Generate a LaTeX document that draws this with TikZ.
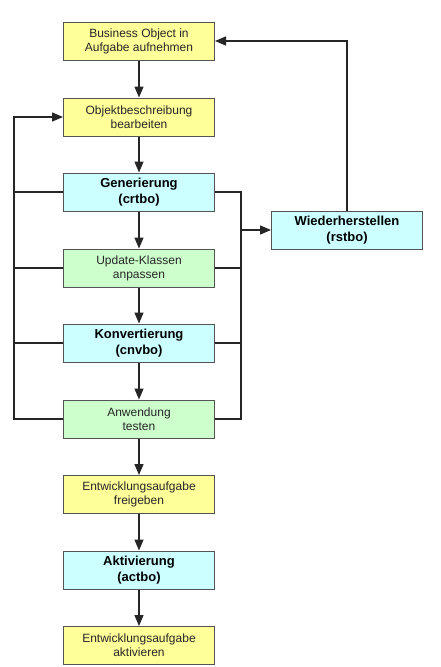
\documentclass[tikz,border=0pt]{standalone}
\usepackage{fontspec}
\setmainfont{Liberation Sans}
\usepackage{tikz}
\usetikzlibrary{arrows.meta}
\definecolor{ffff99}{rgb}{1.,1.,0.6}
\definecolor{ccffff}{rgb}{0.8,1.,1.}
\definecolor{ccffcc}{rgb}{0.8,1.,0.8}
\definecolor{rahmen}{rgb}{0.33,0.33,0.33}
\definecolor{schrift}{rgb}{0.15,0.15,0.15}

\tikzset{
  kasten/.style={draw=rahmen,line width=1pt,minimum width=151pt,minimum height=38pt,inner sep=0pt,align=center,text=schrift},
  aufgabe/.style={kasten,fill=ffff99,font=\fontsize{12}{14}\selectfont},
  anpassen/.style={kasten,fill=ccffcc,font=\fontsize{12}{14}\selectfont},
  werkzeug/.style={kasten,fill=ccffff,font=\fontsize{13}{16.5}\selectfont\bfseries,text=black},
  linie/.style={line width=1.4pt,color=black!85},
  pfeil/.style={linie,-{Triangle[length=11pt,width=9pt]}}
}

\begin{document}
\begin{tikzpicture}[line cap=butt,line join=miter,x=1pt,y=-1pt]
\useasboundingbox (0,0) rectangle (440,667);
% Schritte
\node[aufgabe]  (bo)    at (139,41)    {Business Object in\\Aufgabe aufnehmen};
\node[aufgabe]  (obj)   at (139,117)   {Objektbeschreibung\\bearbeiten};
\node[werkzeug] (gen)   at (139,192)   {Generierung\\(crtbo)};
\node[anpassen] (upd)   at (139,268)   {Update-Klassen\\anpassen};
\node[werkzeug] (konv)  at (139,343)   {Konvertierung\\(cnvbo)};
\node[anpassen] (anw)   at (139,419)   {Anwendung\\testen};
\node[aufgabe]  (frei)  at (139,494.5) {Entwicklungsaufgabe\\freigeben};
\node[werkzeug] (akt)   at (139,570)   {Aktivierung\\(actbo)};
\node[aufgabe]  (aktiv) at (139,645.5) {Entwicklungsaufgabe\\aktivieren};
\node[werkzeug] (wied)  at (347,230)   {Wiederherstellen\\(rstbo)};
% Hauptfluss
\draw[pfeil] (bo) -- (obj);
\draw[pfeil] (obj) -- (gen);
\draw[pfeil] (gen) -- (upd);
\draw[pfeil] (upd) -- (konv);
\draw[pfeil] (konv) -- (anw);
\draw[pfeil] (anw) -- (frei);
\draw[pfeil] (frei) -- (akt);
\draw[pfeil] (akt) -- (aktiv);
% Ruecksprung links
\coordinate (lo) at (14,117);
\coordinate (lu) at (14,419);
\draw[pfeil] (anw.west) -- (lu) -- (lo) -- (obj.west);
\draw[linie] (gen.west) -- (gen.west -| lo);
\draw[linie] (upd.west) -- (upd.west -| lo);
\draw[linie] (konv.west) -- (konv.west -| lo);
% Wiederherstellen rechts
\coordinate (ro) at (241,192);
\coordinate (ru) at (241,419);
\draw[linie] (gen.east) -- (ro) -- (ru) -- (anw.east);
\draw[linie] (upd.east) -- (upd.east -| ro);
\draw[linie] (konv.east) -- (konv.east -| ro);
\draw[pfeil] (wied.west -| ro) -- (wied.west);
\draw[pfeil] (wied.north) |- (bo.east);
\end{tikzpicture}
\end{document}
